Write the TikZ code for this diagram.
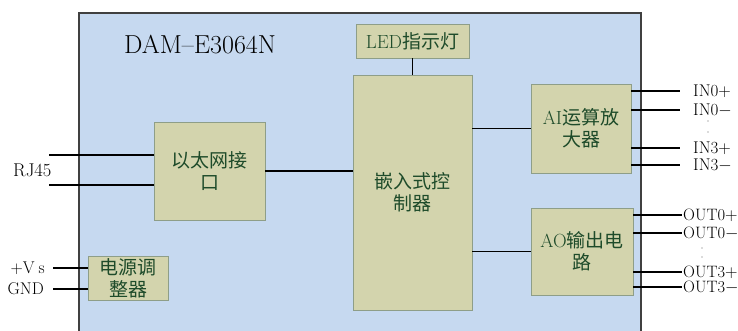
\documentclass[tikz,border=0pt]{standalone}
\usepackage{fontspec}
\newfontfamily\cjk{Noto Sans CJK SC}
\usetikzlibrary{positioning}
\definecolor{panelblue}{HTML}{C6D9F0}
\definecolor{modfill}{HTML}{D3D4AD}
\definecolor{modline}{HTML}{8E9E88}
\definecolor{modtext}{HTML}{1E4B2A}

\begin{document}
\begin{tikzpicture}[
    x=1pt, y=-1pt,
    module/.style={
        draw=modline,
        fill=modfill,
        line width=0.8pt,
        text=modtext,
        align=center,
        inner sep=0pt,
        font=\cjk\fontsize{19}{22}\selectfont
    },
    wire/.style={line width=1.7pt},
    pin/.style={inner sep=0pt, text height=11.5pt, text depth=0.5pt,
        font=\fontsize{17}{17}\selectfont},
    outpin/.style={pin, font=\fontsize{16.5}{16.5}\selectfont}
]

\clip (0,0) rectangle (738,331);
\fill[white] (0,0) rectangle (738,331);
\draw[fill=panelblue, draw=black!75, line width=1.2pt] (79,13) rectangle (641,345);

\node[font=\fontsize{26}{26}\selectfont] (title) at (200,45) {DAM--E3064N};

\node[module, minimum width=113pt, minimum height=34pt] (led) at (412.5,41)
{{\rmfamily LED}指示灯};

\node[module, minimum width=119pt, minimum height=235pt] (mcu) at (412.5,192.5)
{嵌入式控\\制器};

\node[module, minimum width=111pt, minimum height=98pt] (eth) at (209.5,171)
{以太网接\\口};

\node[module, minimum width=80pt, minimum height=44pt] (power) at (128,278)
{电源调\\整器};

\node[module, minimum width=100pt, minimum height=89pt] (ai) at (581,128.5)
{{\rmfamily AI}运算放\\大器};

\node[module, minimum width=102pt, minimum height=87pt] (ao) at (582,251.5)
{{\rmfamily AO}输出电\\路};

% internal links
\draw[wire] (led) -- (mcu);
\draw[wire] (eth.east) -- (eth.east -| mcu.west);
\draw[wire] (mcu.east |- ai.west) -- (ai.west);
\draw[wire] (mcu.east |- ao.west) -- (ao.west);

% network
\coordinate (rjtop) at (49,155);
\coordinate (rjbot) at (49,185);
\draw[wire] (rjtop) -- (rjtop -| eth.west);
\draw[wire] (rjbot) -- (rjbot -| eth.west);
\node[pin, anchor=west, font=\fontsize{18.5}{18.5}\selectfont] (rj) at (13,171) {RJ45};

% supply
\coordinate (vsin) at (53,268);
\coordinate (gndin) at (53,289);
\draw[wire] (vsin) -- (vsin -| power.west);
\draw[wire] (gndin) -- (gndin -| power.west);
\node[pin, anchor=east] (vs) at (45,268) {+V\hspace{4pt}s};
\node[pin, anchor=east] (gnd) at (44,289) {GND};

% analog inputs
\foreach \y/\t in {91/IN0$+$, 110/IN0$-$, 148/IN3$+$, 165/IN3$-$} {
    \coordinate (in\y) at (680,\y);
    \draw[wire] (ai.east |- in\y) -- (in\y);
    \node[pin, anchor=west] at (693,\y) {\t};
}
\fill[black!60] (708,121) circle (0.6pt) (708,132) circle (0.6pt);

% analog outputs
\foreach \y/\t in {215/OUT0$+$, 233/OUT0$-$, 272/OUT3$+$, 287/OUT3$-$} {
    \coordinate (out\y) at (682,\y);
    \draw[wire] (ao.east |- out\y) -- (out\y);
    \node[outpin, anchor=west] at (683,\y) {\t};
}
\fill[black!60] (702,248) circle (0.6pt) (702,257) circle (0.6pt);

\end{tikzpicture}
\end{document}
